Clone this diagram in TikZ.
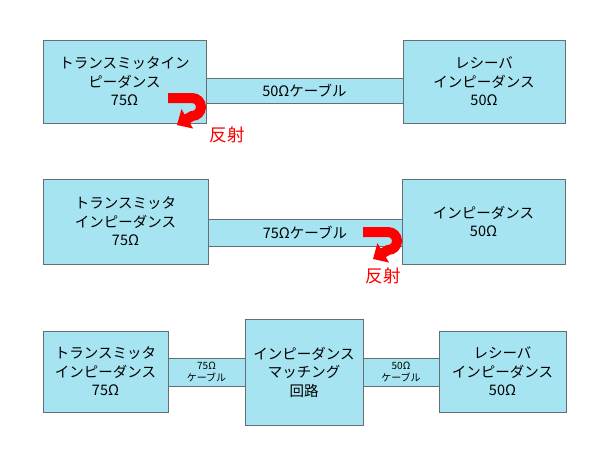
\documentclass[tikz,border=0pt]{standalone}
\usepackage{fontspec}
\setmainfont{Noto Sans CJK JP}
\usepackage{tikz}
\usetikzlibrary{arrows.meta}
\definecolor{boxcyan}{RGB}{166,228,241}
\definecolor{edgegray}{RGB}{100,110,115}
\tikzstyle{blk} = [draw=edgegray, fill=boxcyan, line width=0.8pt, inner sep=0pt, outer sep=0pt, align=center, font={\fontsize{14.5}{18.5}\selectfont}]
\tikzstyle{cable} = [blk]
\tikzstyle{thin} = [font={\fontsize{10}{12}\selectfont}]
\tikzstyle{refl} = [red, line width=10pt, -{Triangle[length=12pt,width=22pt]}]
\tikzstyle{refltext} = [text=red, font={\fontsize{17.5}{17.5}\selectfont}]

\begin{document}
\begin{tikzpicture}[x=1pt,y=-1pt]
        \useasboundingbox (0,0) rectangle (600,450);
        % mismatch at the transmitter
        \node[cable,minimum width=197pt,minimum height=25pt](c1) at (304.5,90.5){50Ωケーブル};
        \node[blk,minimum width=163pt,minimum height=83pt](tx1) at (124.5,81.5){トランスミッタイン\\ピーダンス\\75Ω};
        \node[blk,minimum width=162pt,minimum height=83pt](rx1) at (484,81.5){レシーバ\\インピーダンス\\50Ω};
        \draw[refl](168,98) -- (192,98) arc(-90:90:9) -- (177,125);
        \node[refltext](r1) at (227,135){反射};
        % mismatch at the receiver
        \node[cable,minimum width=194pt,minimum height=27pt](c2) at (305,232.5){75Ωケーブル};
        \node[blk,minimum width=165pt,minimum height=85pt](tx2) at (125.5,221.5){トランスミッタ\\インピーダンス\\75Ω};
        \node[blk,minimum width=163pt,minimum height=85pt](rx2) at (483.5,221.5){インピーダンス\\50Ω};
        \draw[refl](363,232) -- (388,232) arc(-90:90:9) -- (373,259);
        \node[refltext](r2) at (383,276){反射};
        % with matching circuit
        \node[cable,thin,minimum width=77pt,minimum height=28pt](c3) at (206.5,372){75Ω\\ケーブル};
        \node[cable,thin,minimum width=76pt,minimum height=28pt](c4) at (401,372){50Ω\\ケーブル};
        \node[blk,minimum width=125pt,minimum height=81pt](tx3) at (105.5,371.5){トランスミッタ\\インピーダンス\\75Ω};
        \node[blk,minimum width=118pt,minimum height=106pt](mc) at (304,372){インピーダンス\\マッチング\\回路};
        \node[blk,minimum width=127pt,minimum height=81pt](rx3) at (502.5,371.5){レシーバ\\インピーダンス\\50Ω};
      \end{tikzpicture}
\end{document}
